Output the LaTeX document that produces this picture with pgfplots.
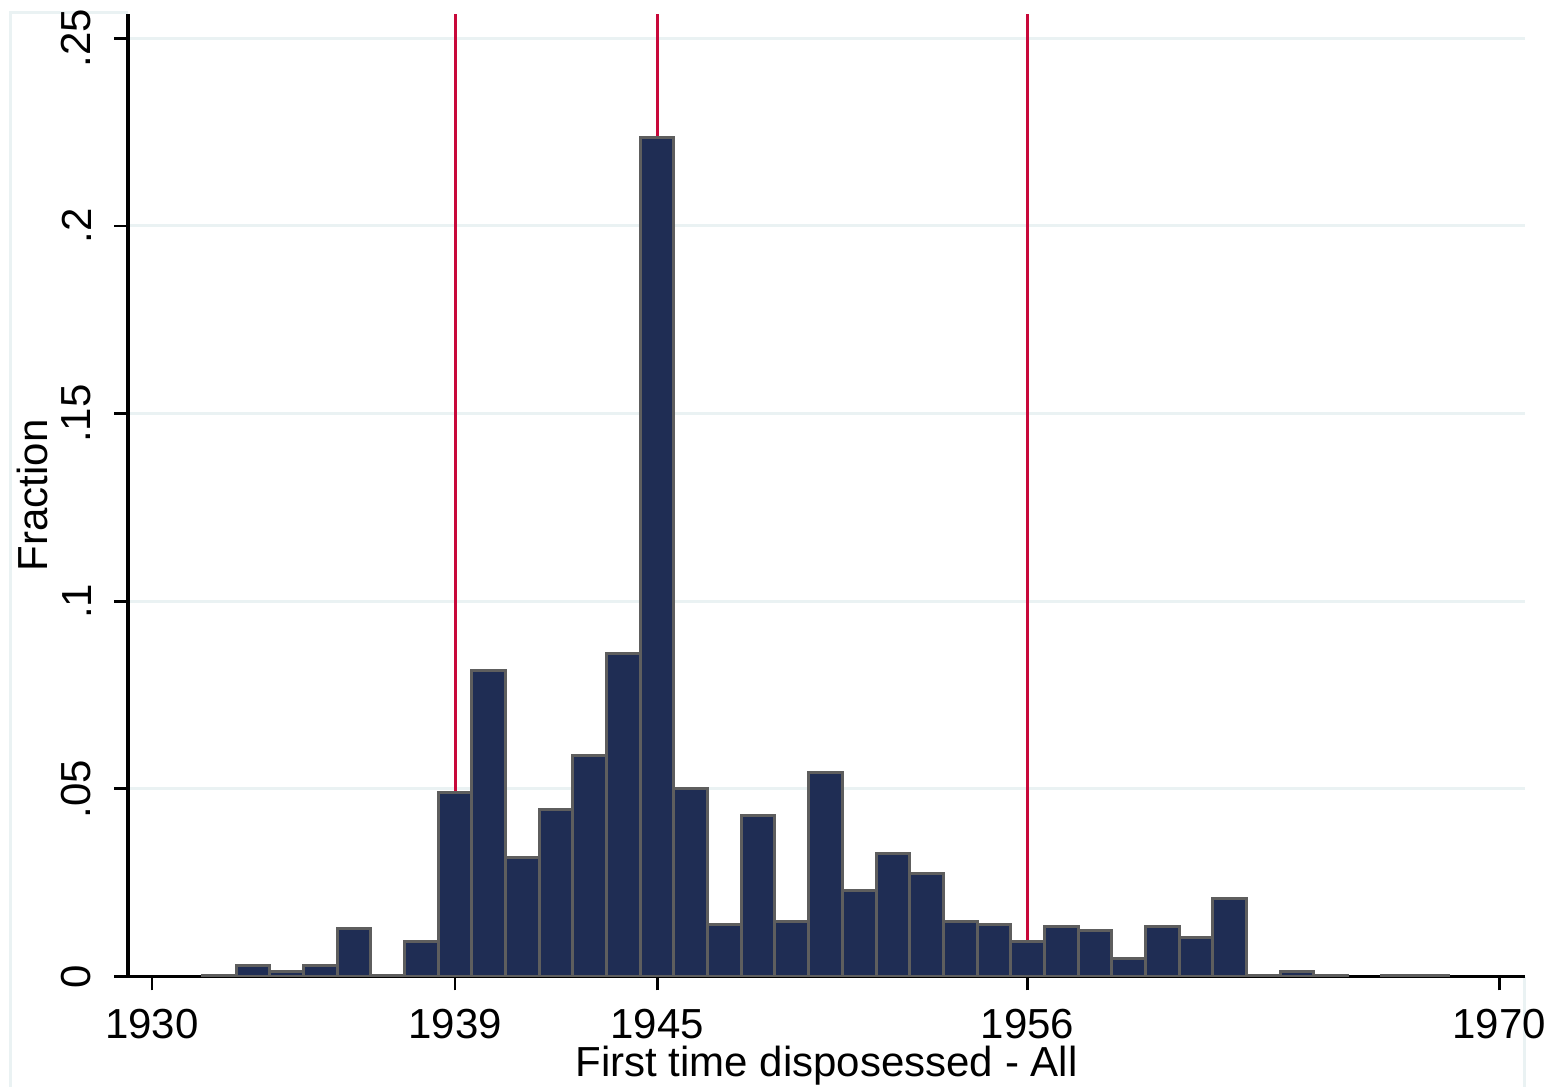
\documentclass[border=0pt]{standalone}
\usepackage{pgfplots}
\pgfplotsset{compat=1.18}
\usepackage{fontspec}
\setmainfont{Liberation Sans}
\definecolor{barfill}{RGB}{31,45,84}
\definecolor{bardraw}{RGB}{94,94,94}
\definecolor{redline}{RGB}{200,8,58}
\definecolor{gridc}{RGB}{234,242,243}
\begin{document}
\begin{tikzpicture}[font=\fontsize{10.5}{12.6}\selectfont]
\path[use as bounding box] (0,0) rectangle (387pt,271.75pt);
% faint graph-region frame, mostly hidden behind the plot region
\draw[gridc, line width=0.8pt] (2.7pt,-5pt) -- (2.7pt,268.6pt) -- (381.1pt,268.6pt) -- (381.1pt,-5pt);
\fill[white] (32pt,27.5pt) rectangle (390pt,275pt);
\begin{axis}[
    at={(32pt,27.625pt)}, anchor=south west,
    scale only axis, width=349.25pt, height=240.625pt,
    xmin=1929.29, xmax=1970.77,
    ymin=0, ymax=0.2565,
    axis x line*=bottom, axis y line*=left,
    axis line style={-, line width=0.8pt, black},
    xtick={1930,1939,1945,1956,1970},
    xticklabels={1930,1939,1945,1956,1970},
    ytick={0,0.05,0.1,0.15,0.2,0.25},
    yticklabels={0,.05,.1,.15,.2,.25},
    tick align=outside, major tick length=3.5pt,
    tick style={line width=0.7pt, black},
    minor tick num=0,
    ymajorgrids, grid style={line width=0.75pt, gridc},
    xticklabel style={anchor=base, inner sep=0pt, yshift=-12pt},
    yticklabel style={rotate=90, anchor=south, inner sep=0pt, yshift=5.5pt},
    xlabel={First time disposessed - All},
    ylabel={Fraction},
    xlabel style={at={(axis description cs:0.5,0)}, anchor=base, inner sep=0pt, yshift=-24.9pt},
    ylabel style={at={([xshift=-20pt]axis description cs:0,0.5)}, anchor=base, inner sep=0pt},
]
\addplot[redline, line width=0.75pt] coordinates {(1939,0) (1939,0.2565)};
\addplot[redline, line width=0.75pt] coordinates {(1945,0) (1945,0.2565)};
\addplot[redline, line width=0.75pt] coordinates {(1956,0) (1956,0.2565)};
\addplot[ybar, bar width=1, bar shift=0pt, fill=barfill, draw=bardraw, line width=0.75pt]
coordinates {
(1932,0.0003) (1933,0.0029) (1934,0.0013) (1935,0.0029) (1936,0.0128)
(1937,0.0003) (1938,0.0093) (1939,0.0491) (1940,0.0815) (1941,0.0318)
(1942,0.0446) (1943,0.0590) (1944,0.0861) (1945,0.2237) (1946,0.0500)
(1947,0.0139) (1948,0.0428) (1949,0.0147) (1950,0.0544) (1951,0.0229)
(1952,0.0328) (1953,0.0275) (1954,0.0147) (1955,0.0139) (1956,0.0094)
(1957,0.0133) (1958,0.0123) (1959,0.0049) (1960,0.0133) (1961,0.0104)
(1962,0.0207) (1963,0.0003) (1964,0.0013) (1965,0.0003) (1967,0.0003)
(1968,0.0003)
};
\end{axis}
\end{tikzpicture}
\end{document}
